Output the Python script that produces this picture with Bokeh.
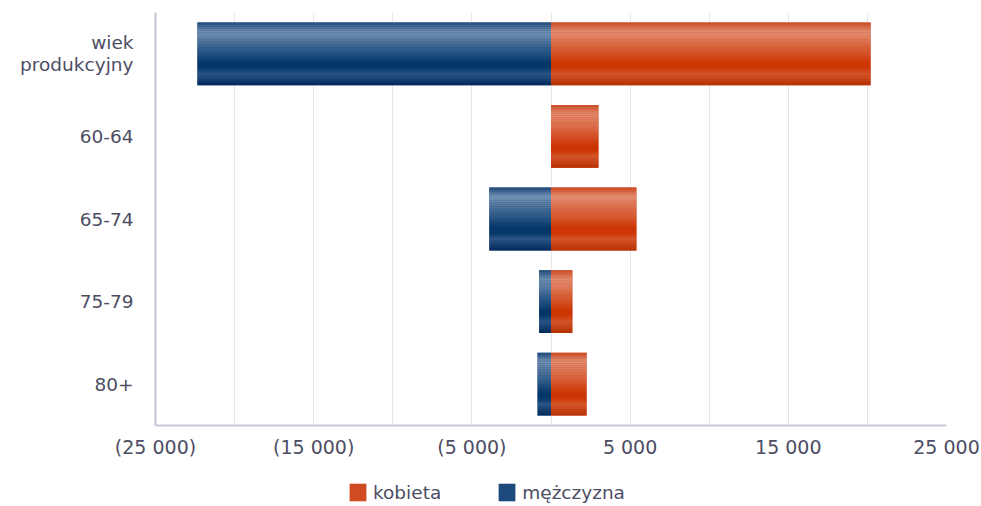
from bokeh.plotting import figure
from bokeh.layouts import column
from bokeh.models import (Range1d, FixedTicker, Legend, LegendItem, ColumnDataSource)
from bokeh.transform import dodge
from bokeh.embed import file_html
from bokeh.resources import INLINE

# ---- data ----
categories = ["wiek produkcyjny", "60-64", "65-74", "75-79", "80+"]
category_labels = ["wiek\nprodukcyjny", "60-64", "65-74", "75-79", "80+"]
kobieta = [20200, 3000, 5400, 1350, 2250]
mezczyzna = [-22350, 0, -3900, -750, -850]
series_names = ["kobieta", "mężczyzna"]
xtick_values = [-25000, -15000, -5000, 5000, 15000, 25000]
xtick_labels = ["(25 000)", "(15 000)", "(5 000)", "5 000", "15 000", "25 000"]
xgrid_minor = [-20000, -10000, 0, 10000, 20000]

# ---- styling ----
TEXT = "#4d4d63"
FONT = "DejaVu Sans"
H = 0.76
N = 30
LINE_H = 0.27  # line spacing of multi-line category labels, in category units
red_stops = [(0.0, "#c84a20"), (0.14, "#e38d72"), (0.22, "#e08262"), (0.45, "#d65a32"),
             (0.66, "#cc3300"), (0.73, "#cd3604"), (0.82, "#d4552b"), (1.0, "#b52f00")]
blue_stops = [(0.0, "#1e4878"), (0.14, "#7190b2"), (0.22, "#6585a8"), (0.45, "#2d5a88"),
              (0.66, "#003366"), (0.73, "#05386a"), (0.82, "#2b5585"), (1.0, "#00285a")]
series_style = {"kobieta": ("zero", "k", red_stops, "#d04a22"),
                "mężczyzna": ("m", "zero", blue_stops, "#1d4a7c")}


def hex2rgb(h):
    h = h.lstrip("#")
    return tuple(int(h[i:i + 2], 16) for i in (0, 2, 4))


def interp(stops, f):
    for (f0, c0), (f1, c1) in zip(stops[:-1], stops[1:]):
        if f0 <= f <= f1:
            t = (f - f0) / (f1 - f0) if f1 > f0 else 0
            a, b = hex2rgb(c0), hex2rgb(c1)
            return "#%02x%02x%02x" % tuple(round(a[k] + (b[k] - a[k]) * t) for k in range(3))
    return stops[-1][1]


n_cat = len(categories)
# category index -> slot centre (first category at the top)
slot = [n_cat - 0.5 - i for i in range(n_cat)]
src = ColumnDataSource(dict(cat=categories, pos=slot, k=kobieta, m=mezczyzna, zero=[0] * n_cat))

p = figure(width=980, height=466,
           y_range=Range1d(0, n_cat), x_range=Range1d(-25000, 25000),
           output_backend="svg", toolbar_location=None,
           min_border_left=155, min_border_right=34, min_border_top=12, min_border_bottom=41)
p.outline_line_color = None
p.background_fill_color = "white"

for name in series_names:
    left, right, stops, base = series_style[name]
    p.hbar(y="pos", left=left, right=right, height=H, source=src, fill_color=base, line_color=None)
    for i in range(N):
        f = (i + 0.5) / N
        off = H / 2 - (i + 0.5) * H / N
        p.hbar(y=dodge("pos", off), left=left, right=right, height=H / N,
               source=src, fill_color=interp(stops, f), line_color=None)

# x axis
ticker = FixedTicker(ticks=xtick_values, minor_ticks=xgrid_minor)
p.xaxis.ticker = ticker
p.xaxis.major_label_overrides = {v: l for v, l in zip(xtick_values, xtick_labels)}
p.xaxis.major_tick_line_color = None
p.xaxis.minor_tick_line_color = None
p.xaxis.major_label_standoff = 4
p.xaxis.axis_line_color = "#c8c8da"
p.xaxis.axis_line_width = 2
p.xaxis.major_label_text_font = FONT
p.xaxis.major_label_text_font_size = "19px"
p.xaxis.major_label_text_color = TEXT

# y axis: one tick per label line, centred on each category slot
lab_ticks, lab_over = [], {}
for centre, lab in zip(slot, category_labels):
    lines = lab.split("\n")
    for j, line in enumerate(lines):
        t = round(centre + ((len(lines) - 1) / 2 - j) * LINE_H, 4)
        lab_ticks.append(t)
        lab_over[t] = line
yax = p.yaxis[0]
yax.ticker = FixedTicker(ticks=lab_ticks, minor_ticks=[])
yax.major_label_overrides = lab_over
yax.major_tick_line_color = None
yax.minor_tick_line_color = None
yax.major_label_standoff = 16
yax.axis_line_color = "#c0c2d6"
yax.axis_line_width = 2
yax.major_label_text_font = FONT
yax.major_label_text_font_size = "18.5px"
yax.major_label_text_color = TEXT

p.xgrid.grid_line_color = "#e6e6ee"
p.xgrid.minor_grid_line_color = "#e6e6ee"
p.ygrid.grid_line_color = None

# ---- legend strip below the chart (frame aligned with the chart frame) ----
# its y range lies beyond every data slot, so only the legend swatches show
lg = figure(width=980, height=38, x_range=Range1d(0, 1), y_range=Range1d(n_cat + 1, n_cat + 2),
            output_backend="svg", toolbar_location=None,
            min_border_left=0, min_border_right=0, min_border_top=0, min_border_bottom=0)
lg.axis.visible = False
lg.grid.visible = False
lg.outline_line_color = None
items = []
for name in series_names:
    left, right, stops, base = series_style[name]
    r = lg.hbar(y="pos", left=left, right=right, height=H, source=src,
                fill_color=base, line_color=None)
    items.append(LegendItem(label=name, renderers=[r]))
legend = Legend(items=items, orientation="horizontal", location=(192, 1),
                padding=0, margin=0, spacing=55, label_standoff=5,
                glyph_width=21, glyph_height=22,
                label_text_font=FONT, label_text_font_size="18.5px",
                label_text_color=TEXT, background_fill_alpha=0, border_line_color=None)
lg.add_layout(legend, "center")

layout = column(p, lg, spacing=0)
open("out.html", "w").write(file_html(layout, INLINE))
